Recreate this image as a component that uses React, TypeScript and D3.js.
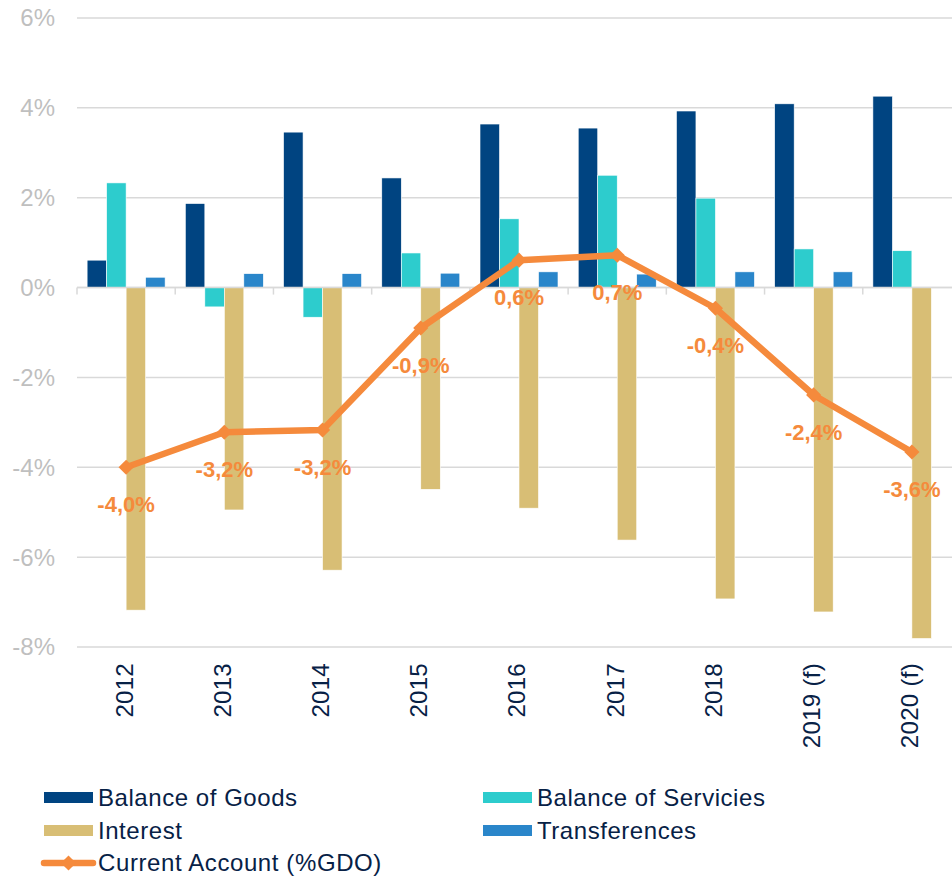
import React from "react";
import * as d3 from "d3";

const years = ["2012", "2013", "2014", "2015", "2016", "2017", "2018", "2019 (f)", "2020 (f)"];
const goods = [0.61, 1.87, 3.46, 2.44, 3.64, 3.55, 3.93, 4.09, 4.26];
const services = [2.33, -0.43, -0.66, 0.77, 1.53, 2.5, 1.99, 0.86, 0.82];
const interest = [-7.18, -4.95, -6.29, -4.49, -4.91, -5.62, -6.93, -7.22, -7.81];
const transfers = [0.23, 0.31, 0.31, 0.32, 0.35, 0.3, 0.35, 0.35, 0];
const currentAccount = [-4.0, -3.22, -3.17, -0.9, 0.61, 0.72, -0.46, -2.39, -3.66];
const caLabels = ["-4,0%", "-3,2%", "-3,2%", "-0,9%", "0,6%", "0,7%", "-0,4%", "-2,4%", "-3,6%"];
const yTicks = [6, 4, 2, 0, -2, -4, -6, -8];

const seriesNames = ["Balance of Goods", "Balance of Servicies", "Interest", "Transferences"];
const seriesColors = ["#004481", "#2DCCCD", "#D8BE75", "#2A86CA"];
const lineName = "Current Account (%GDO)";
const lineColor = "#F58A3C";

const W = 952;
const H = 877;
const FONT = "'Liberation Sans', Arial, sans-serif";

export default function App() {
  const seriesData = [goods, services, interest, transfers];
  const x0 = d3.scaleBand<string>().domain(years).range([77, 961]).paddingInner(0).paddingOuter(0);
  const bw = x0.bandwidth();
  const x1 = d3
    .scaleBand<string>()
    .domain(seriesNames)
    .range([bw * 0.103, bw * 0.897])
    .padding(0);
  const y = d3.scaleLinear().domain([-8, 6]).range([647, 18]);
  const cx = (i: number) => (x0(years[i]) as number) + bw / 2;

  const line = d3
    .line<number>()
    .x((_, i) => cx(i))
    .y((d) => y(d));

  const diamond = d3.symbol().type(d3.symbolSquare).size(115)();

  const legendItems = [
    { name: seriesNames[0], color: seriesColors[0], x: 44, y: 798 },
    { name: seriesNames[1], color: seriesColors[1], x: 483, y: 798 },
    { name: seriesNames[2], color: seriesColors[2], x: 44, y: 831 },
    { name: seriesNames[3], color: seriesColors[3], x: 483, y: 831 },
  ];

  return (
    <div style={{ position: "absolute", left: 0, top: 0 }}>
      <svg width={W} height={H} style={{ display: "block", fontFamily: FONT }}>
        <rect width={W} height={H} fill="#fff" />
        {yTicks.map((t) => (
          <line
            key={"g" + t}
            x1={77}
            x2={W}
            y1={y(t)}
            y2={y(t)}
            stroke="#D9D9D9"
            strokeWidth={1.5}
          />
        ))}
        {yTicks.map((t) => (
          <text
            key={"yl" + t}
            x={55}
            y={y(t)}
            dy="0.35em"
            textAnchor="end"
            fontSize={24}
            fill="#BFBFBF"
          >
            {t + "%"}
          </text>
        ))}
        {years.map((yr, i) => (
          <g key={"b" + yr} transform={`translate(${x0(yr)},0)`}>
            {seriesNames.map((s, k) => {
              const v = seriesData[k][i];
              if (v === 0) return null;
              const y0 = y(0);
              const yv = y(v);
              return (
                <rect
                  key={s}
                  x={x1(s) as number}
                  width={x1.bandwidth()}
                  y={Math.min(y0, yv)}
                  height={Math.abs(yv - y0)}
                  fill={seriesColors[k]}
                  stroke="#fff"
                  strokeWidth={0.6}
                />
              );
            })}
          </g>
        ))}
        <line x1={77} x2={W} y1={y(0)} y2={y(0)} stroke="#D9D9D9" strokeWidth={1.5} />
        {years.map((yr) => (
          <line
            key={"t" + yr}
            x1={x0(yr) as number}
            x2={x0(yr) as number}
            y1={y(0)}
            y2={y(0) + 7}
            stroke="#D9D9D9"
            strokeWidth={1.5}
          />
        ))}
        {years.map((yr, i) => (
          <text
            key={"xl" + yr}
            transform={`translate(${cx(i) - 2},663) rotate(-90)`}
            textAnchor="end"
            dy="0.35em"
            fontSize={24}
            fill="#072146"
            letterSpacing={0.3}
          >
            {yr}
          </text>
        ))}
        <path d={line(currentAccount) || ""} fill="none" stroke={lineColor} strokeWidth={6.5} strokeLinejoin="round" />
        {currentAccount.map((v, i) => (
          <path
            key={"m" + i}
            d={diamond || ""}
            transform={`translate(${cx(i)},${y(v)}) rotate(45)`}
            fill={lineColor}
          />
        ))}
        {currentAccount.map((v, i) => (
          <text
            key={"cl" + i}
            x={cx(i)}
            y={y(v) + 37}
            dy="0.35em"
            textAnchor="middle"
            fontSize={22}
            fontWeight="bold"
            fill={lineColor}
          >
            {caLabels[i]}
          </text>
        ))}
        {legendItems.map((it) => (
          <g key={"lg" + it.name}>
            <rect x={it.x} y={it.y - 6} width={49} height={11} fill={it.color} />
            <text x={it.x + 54} y={it.y} dy="0.35em" fontSize={24} fill="#072146" letterSpacing={0.55}>
              {it.name}
            </text>
          </g>
        ))}
        <g>
          <line x1={44} x2={93} y1={863} y2={863} stroke={lineColor} strokeWidth={6.5} strokeLinecap="round" />
          <path d={diamond || ""} transform={`translate(68.5,863) rotate(45)`} fill={lineColor} />
          <text x={98} y={863} dy="0.35em" fontSize={24} fill="#072146" letterSpacing={0.6}>
            {lineName}
          </text>
        </g>
      </svg>
    </div>
  );
}
